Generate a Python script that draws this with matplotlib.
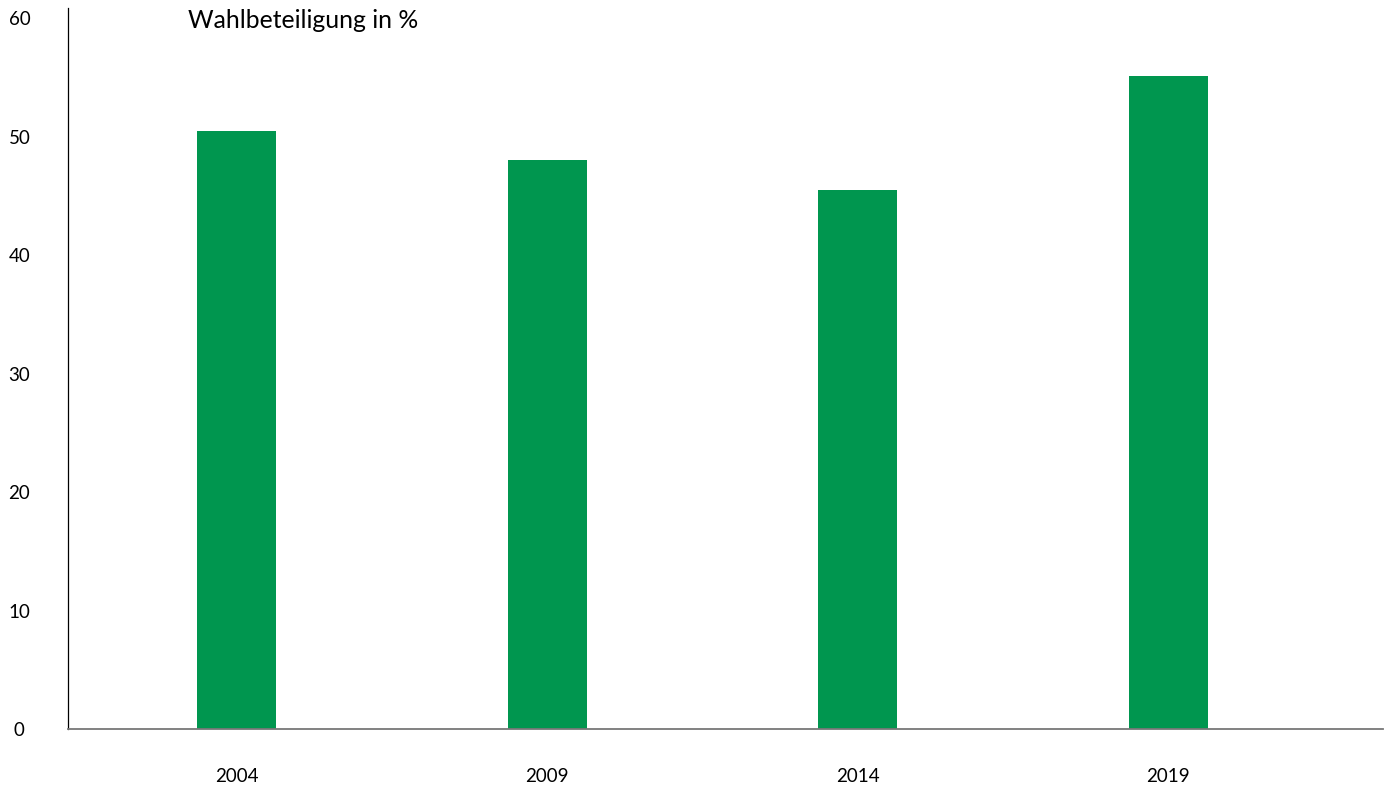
import matplotlib.pyplot as plt

plt.rcParams['font.family'] = ['Lato', 'DejaVu Sans']

# Wahlbeteiligung
years = ['2004', '2009', '2014', '2019']
turnout = [50.5, 48.0, 45.5, 55.1]
yticks = [0, 10, 20, 30, 40, 50, 60]

fig = plt.figure(figsize=(13.9, 7.89), dpi=100)
ax = fig.add_axes([68 / 1390, 60 / 789, 1315 / 1390, 721 / 789])

x = range(len(years))
ax.bar(x, turnout, width=0.254, color='#00964f')

ax.set_xlim(-0.543, 3.692)
ax.set_ylim(0, 60.85)
ax.set_xticks(list(x))
ax.set_xticklabels(years, fontsize=13.5)
ax.set_yticks(yticks)
ax.set_yticklabels([str(v) for v in yticks], fontsize=13.5, ha='center',
                   va='center_baseline')
ax.tick_params(axis='x', length=0, pad=28)
ax.tick_params(axis='y', length=0, pad=35)

for side in ['top', 'right']:
    ax.spines[side].set_visible(False)
ax.spines['left'].set_color('black')
ax.spines['left'].set_linewidth(0.9)
ax.spines['bottom'].set_color('#777777')
ax.spines['bottom'].set_linewidth(1.3)

fig.text(188 / 1390, 1 - 21 / 789, 'Wahlbeteiligung in %', fontsize=17.8,
         ha='left', va='center')

plt.savefig('out.png', dpi=100)
